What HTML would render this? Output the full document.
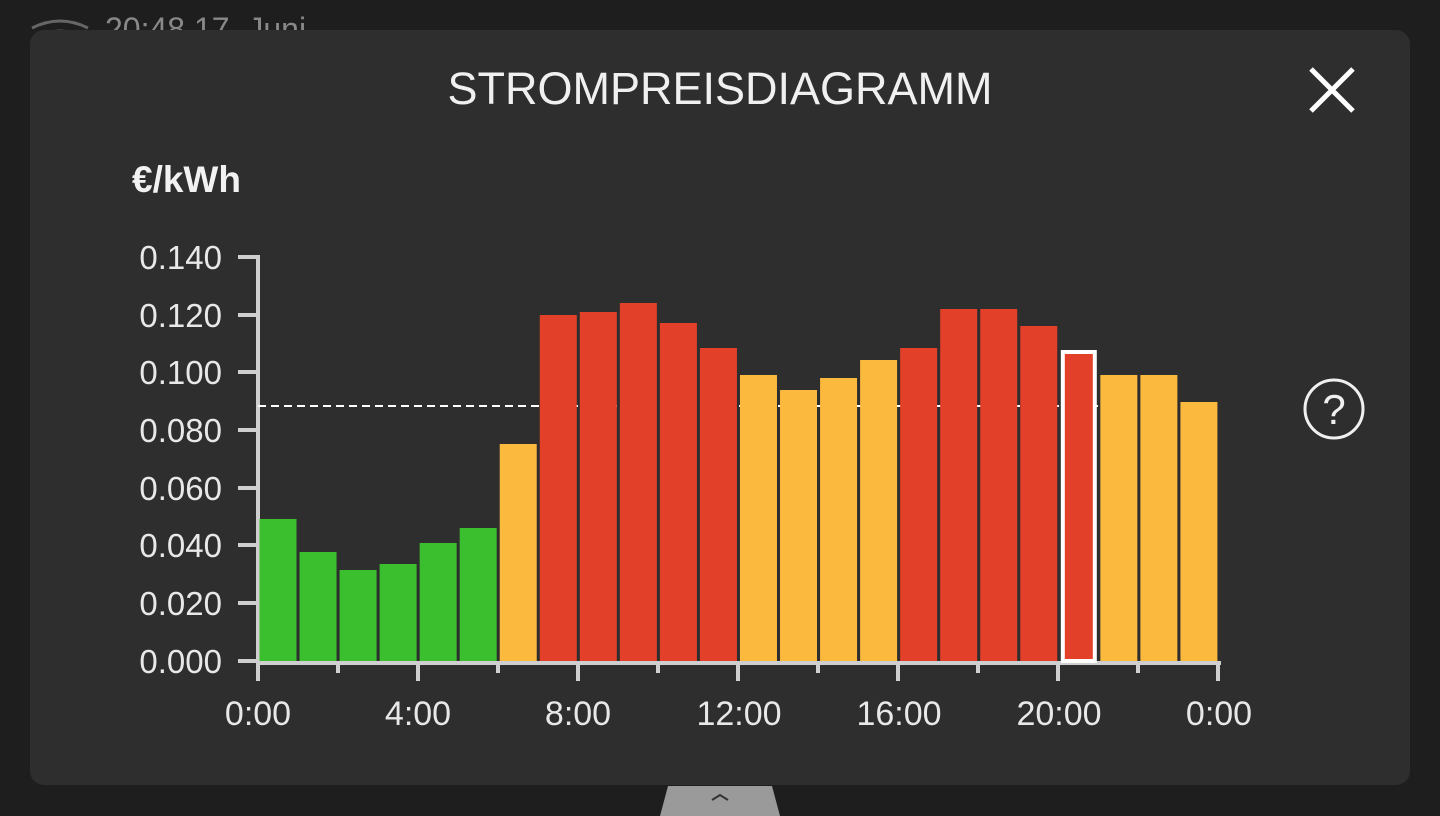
<!DOCTYPE html>
<html><head><meta charset="utf-8"><style>
html,body{margin:0;padding:0;background:#1e1e1f;width:1440px;height:816px;overflow:hidden}
svg{display:block}
text{font-family:"Liberation Sans","DejaVu Sans",sans-serif}
</style></head><body>
<svg width="1440" height="816" viewBox="0 0 1440 816" xmlns="http://www.w3.org/2000/svg">
<rect width="1440" height="816" fill="#1e1e1f"/>
<text x="105" y="40" fill="#888" font-size="32">20:48  17. Juni</text>
<path d="M32 28 q28 -14 56 0 M40 36 q20 -10 40 0" stroke="#666" stroke-width="3" fill="none"/>
<rect x="30" y="30" width="1380" height="755" rx="14" fill="#2e2e2e"/>
<text x="720" y="104" fill="#f0f0f0" font-size="45" text-anchor="middle">STROMPREISDIAGRAMM</text>
<path d="M1311 69 L1353 111 M1353 69 L1311 111" stroke="#fff" stroke-width="5"/>
<text x="132" y="192" fill="#f2f2f2" font-size="37" font-weight="bold">€/kWh</text>
<g fill="#e8e8e8" font-size="33" text-anchor="end">
<text x="222" y="269">0.140</text><text x="222" y="327">0.120</text><text x="222" y="384">0.100</text>
<text x="222" y="442">0.080</text><text x="222" y="500">0.060</text><text x="222" y="557">0.040</text>
<text x="222" y="615">0.020</text><text x="222" y="673">0.000</text>
</g>
<g stroke="#cfcfcf" stroke-width="4">
<line x1="258" y1="255" x2="258" y2="663"/>
<line x1="256" y1="663" x2="1221" y2="663"/>
<path d="M238 257H258M238 315H258M238 372H258M238 430H258M238 488H258M238 545H258M238 603H258M238 661H258" />
<path d="M258 663v18M338 663v10M418 663v18M498 663v10M578 663v18M658 663v10M738 663v18M818 663v10M898 663v18M978 663v10M1058 663v18M1138 663v10M1218 663v18"/>
</g>
<line x1="258" y1="406" x2="1215" y2="406" stroke="#fff" stroke-width="2" stroke-dasharray="8,5"/>
<g id="bars"></g>
<g fill="#e8e8e8" font-size="34" text-anchor="middle">
<text x="258" y="725">0:00</text><text x="418" y="725">4:00</text><text x="578" y="725">8:00</text>
<text x="739" y="725">12:00</text><text x="899" y="725">16:00</text><text x="1059" y="725">20:00</text><text x="1219" y="725">0:00</text>
</g>
<circle cx="1334" cy="409" r="29" fill="none" stroke="#f0f0f0" stroke-width="3"/>
<text x="1334" y="424" fill="#f0f0f0" font-size="42" text-anchor="middle">?</text>
<path d="M660 816 L668 786 L772 786 L780 816 Z" fill="#9a9a9a"/>
<path d="M712 800 L720 795 L728 800" stroke="#333" stroke-width="2" fill="none"/>
</svg>
<script>
var tops=[519,552,570,564,543,528,444,315,312,303,323,348,375,390,378,360,348,309,309,326,350,375,375,402];
var cols="GGGGGGYRRRRRYYYYRRRRRYYY";
var C={G:"#3cbf2e",Y:"#fbb93e",R:"#e3402a"};
var g=document.getElementById("bars"),s="";
for(var i=0;i<24;i++){var x=258+i*40.04+1.5,w=37;
if(i==20){s+='<rect x="'+(x+2.5)+'" y="'+(tops[i]+2)+'" width="'+(w-5)+'" height="'+(659-tops[i])+'" fill="'+C.R+'" stroke="#fff" stroke-width="4"/>';}
else s+='<rect x="'+x+'" y="'+tops[i]+'" width="'+w+'" height="'+(661-tops[i])+'" fill="'+C[cols[i]]+'"/>';}
g.innerHTML=s;
</script>
</body></html>
